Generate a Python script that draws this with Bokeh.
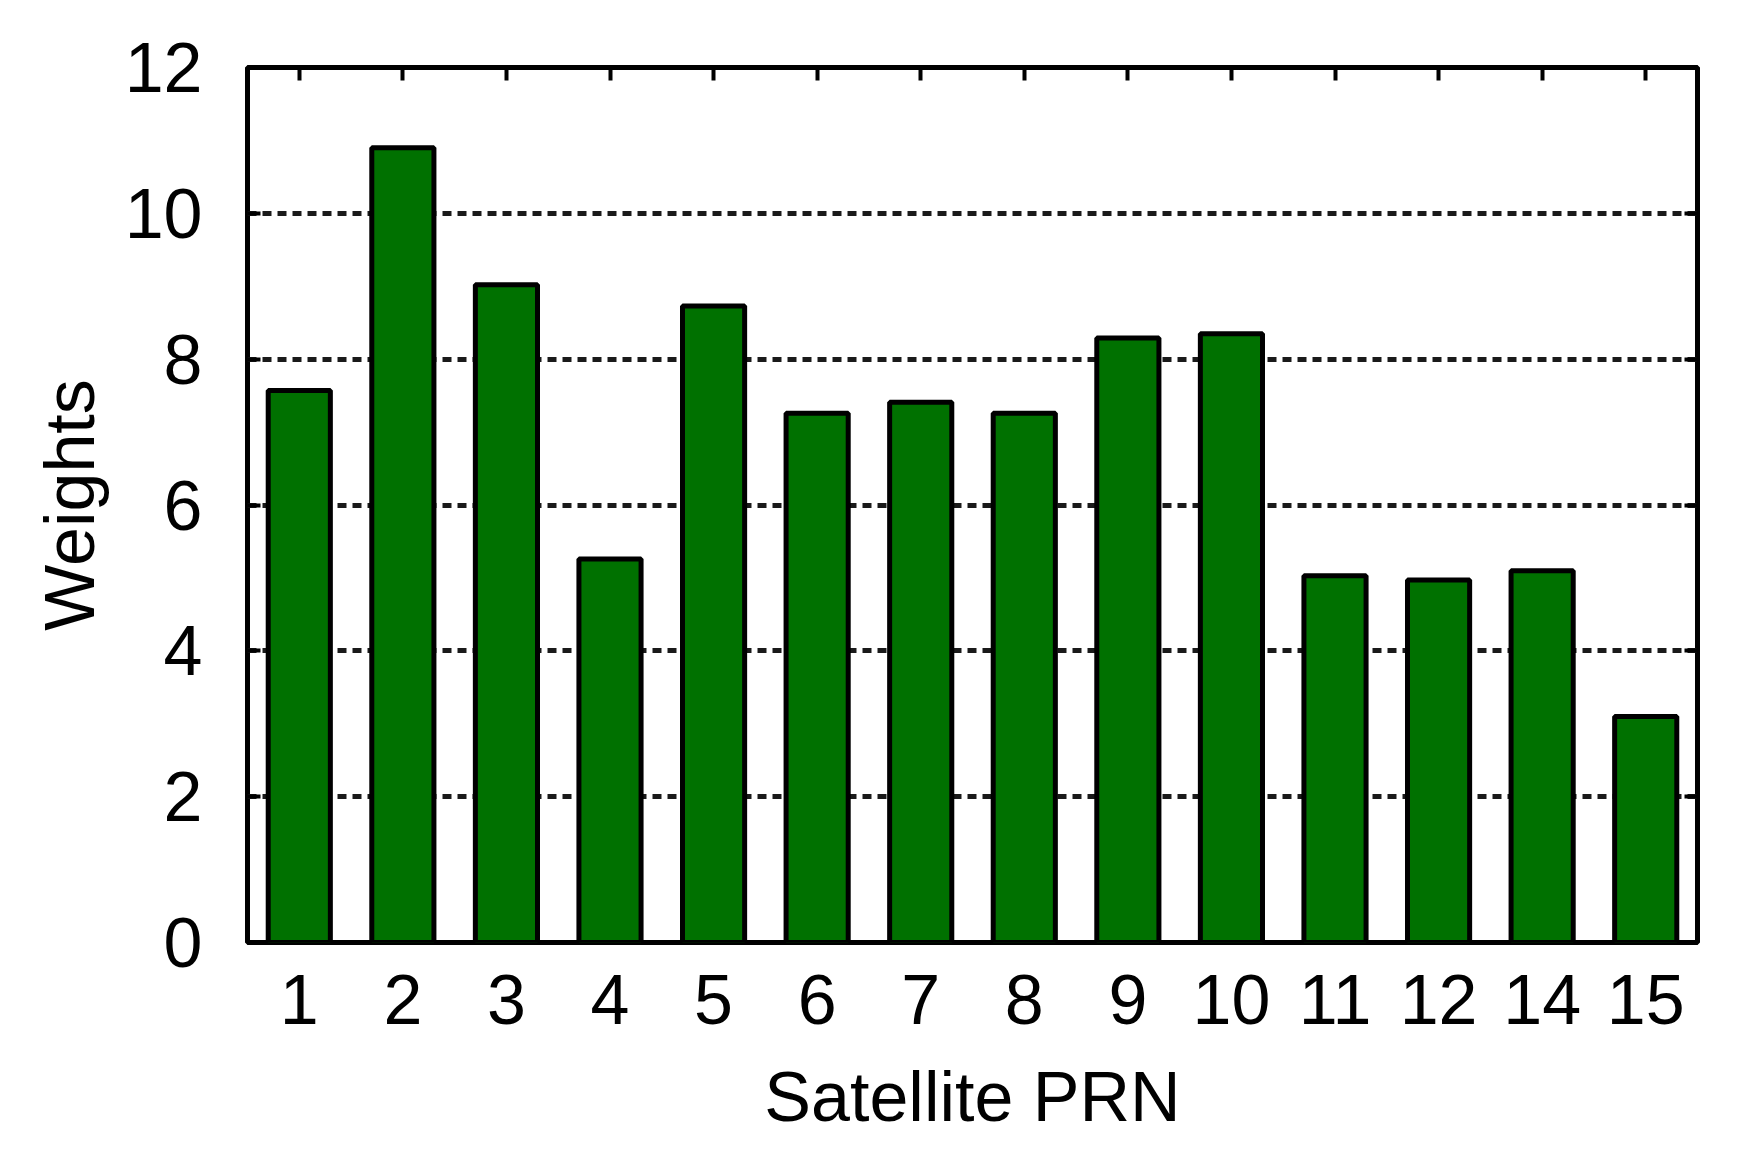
from bokeh.plotting import figure
from bokeh.models import (ColumnDataSource, FactorRange, Range1d, FixedTicker,
                          LinearAxis, CategoricalAxis, CustomLabelingPolicy)
from bokeh.embed import file_html
from bokeh.resources import INLINE

# satellite PRN numbers (13 is missing in the data) and their weights
prn = ["1", "2", "3", "4", "5", "6", "7", "8", "9", "10", "11", "12", "14", "15"]
weights = [7.57, 10.9, 9.02, 5.26, 8.73, 7.26, 7.41, 7.26, 8.29, 8.35, 5.03, 4.97, 5.1, 3.1]
y_ticks = [0, 2, 4, 6, 8, 10, 12]

FONT = "Liberation Sans"
SIZE = "70px"

source = ColumnDataSource(data=dict(prn=prn, weights=weights))

p = figure(x_range=FactorRange(*prn), y_range=Range1d(0, 12),
           frame_width=1450, frame_height=875,
           min_border_left=247, min_border_right=41,
           min_border_top=67, min_border_bottom=200,
           output_backend="svg", toolbar_location=None,
           x_axis_label="Satellite PRN", y_axis_label="Weights")

p.background_fill_color = "white"
p.border_fill_color = "white"
p.outline_line_color = "black"
p.outline_line_width = 5

# bars
p.vbar(x="prn", top="weights", width=0.6, source=source,
       fill_color="#007100", line_color="black", line_width=5)

# grid: dotted horizontal lines only
p.xgrid.grid_line_color = None
p.ygrid.grid_line_color = "#1a1a1a"
p.ygrid.grid_line_width = 5
p.ygrid.grid_line_dash = "9 6"

# left axis
p.yaxis.ticker = FixedTicker(ticks=y_ticks)
p.yaxis.major_tick_in = 13
p.yaxis.major_tick_out = 0
p.yaxis.major_tick_line_width = 4
p.yaxis.minor_tick_line_color = None
p.yaxis.axis_line_color = None
p.yaxis.major_label_standoff = 45
p.yaxis.axis_label_standoff = 13

# bottom axis
p.xaxis.major_tick_in = 0
p.xaxis.major_tick_out = 0
p.xaxis.axis_line_color = None
p.xaxis.major_label_standoff = 32
p.xaxis.axis_label_standoff = 31

for ax in [p.xaxis[0], p.yaxis[0]]:
    ax.major_label_text_font = FONT
    ax.major_label_text_font_size = SIZE
    ax.major_label_text_color = "black"
    ax.axis_label_text_font = FONT
    ax.axis_label_text_font_size = SIZE
    ax.axis_label_text_font_style = "normal"
    ax.axis_label_text_color = "black"

# mirrored ticks on top and right, labels filtered out
no_labels = CustomLabelingPolicy(code="return []")

top = CategoricalAxis(major_tick_in=13, major_tick_out=0, major_tick_line_width=4,
                      major_label_policy=no_labels, axis_line_color=None)
p.add_layout(top, "above")

right = LinearAxis(ticker=FixedTicker(ticks=y_ticks), major_tick_in=13, major_tick_out=0,
                   major_tick_line_width=4, minor_tick_line_color=None,
                   major_label_policy=no_labels, axis_line_color=None)
p.add_layout(right, "right")

open("out.html", "w").write(file_html(p, INLINE))
